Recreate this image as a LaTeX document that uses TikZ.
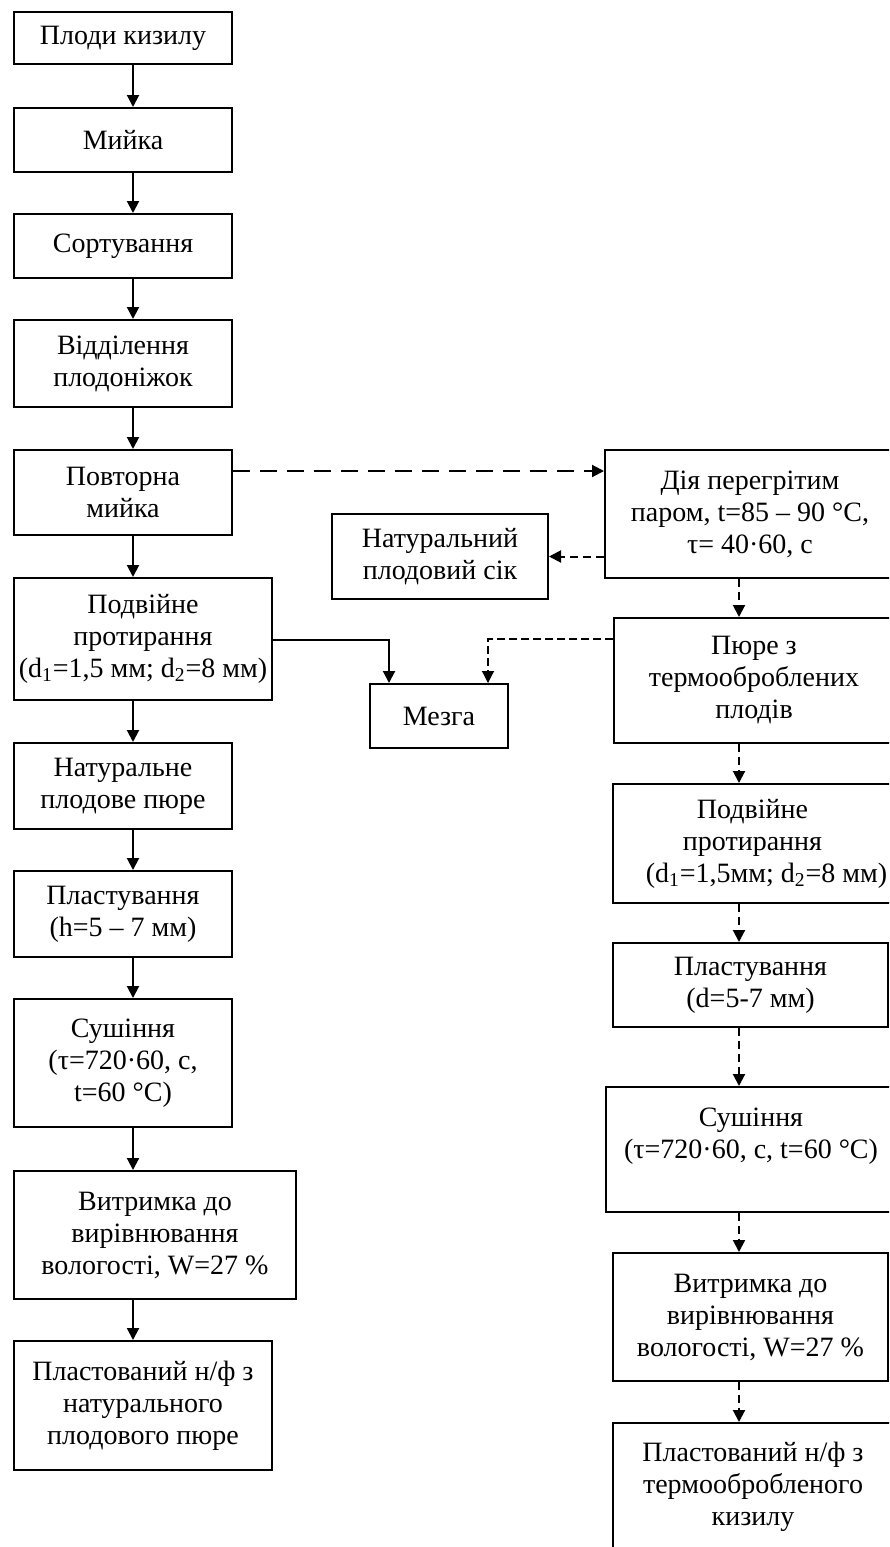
\documentclass[tikz,border=0pt]{standalone}
\usepackage{fontspec}
\setmainfont{Liberation Serif}
\usetikzlibrary{arrows.meta}

\begin{document}
\begin{tikzpicture}[x=0.5pt,y=-0.5pt,line width=1pt,font=\fontsize{14}{16}\selectfont]
   \tikzset{box/.style 2 args={draw, align=center, inner sep=0pt, minimum width=#1*0.5pt, minimum height=#2*0.5pt},
     arr/.style={-{Triangle[length=6pt,width=6pt]}},
     darr/.style={arr, dash pattern=on 8.5pt off 5pt},
     sdarr/.style={arr, dash pattern=on 4pt off 2.5pt},
     tdarr/.style={arr, line width=0.6pt, dash pattern=on 4pt off 2pt}};

\useasboundingbox (0,0) rectangle (889,1547);
\clip (0,0) rectangle (889,1547);

% left branch
\node[box={218}{52}] (l1) at (123,38) {Плоди кизилу};
\node[box={218}{64}] (l2) at (123,140) {Мийка};
\node[box={218}{64}] (l3) at (123,246) {Сортування};
\node[box={218}{87}] (l4) at (123,363.5) {Відділення\\плодоніжок};
\node[box={218}{85}] (l5) at (123,492.5) {Повторна\\мийка};
\node[box={258}{122}] (l6) at (143,639) {Подвійне\\протирання\\(d\textsubscript{1}=1,5 мм; d\textsubscript{2}=8 мм)};
\node[box={218}{86}] (l7) at (123,786) {Натуральне\\плодове пюре};
\node[box={218}{86}] (l8) at (123,914) {Пластування\\(h=5 – 7 мм)};
\node[box={218}{128}] (l9) at (123,1063) {Сушіння\\(τ=720·60, с,\\t=60 °C)};
\node[box={282}{128}] (l10) at (155,1235) {Витримка до\\вирівнювання\\вологості, W=27 \%};
\node[box={258}{129}] (l11) at (143,1405.5) {Пластований н/ф з\\натурального\\плодового пюре};

% right branch
\node[box={290}{128}] (r1) at (750,514) {Дія перегрітим\\паром, t=85 – 90 °C,\\τ= 40·60, с};
\node[box={216}{85}] (sik) at (440,556.5) {Натуральний\\плодовий сік};
\node[box={280}{125}] (r2) at (754,680.5) {Пюре з\\термооброблених\\плодів};
\node[box={138}{64}] (mezga) at (439,716) {Мезга};
\node[box={279}{119}] (r3) at (752.5,843.5) {Подвійне\\протирання\\\hspace*{14pt}(d\textsubscript{1}=1,5мм; d\textsubscript{2}=8 мм)};
\node[box={275}{84}] (r4) at (750.5,985) {Пластування\\(d=5-7 мм)};
\node[box={290}{125}] (r5) at (751,1149.5) {Сушіння\\(τ=720·60, с, t=60 °C)\\~};
\node[box={275}{128}] (r6) at (750.5,1317) {Витримка до\\вирівнювання\\вологості, W=27 \%};
\node[box={280}{128}] (r7) at (753,1487) {Пластований н/ф з\\термообробленого\\кизилу};

\coordinate (lx) at (133,0);
\coordinate (rx) at (739,0);
\coordinate (p1) at (0,471);
\coordinate (m1) at (389,640);
\coordinate (m2) at (488,639);

\draw[arr] (l1.south -| lx) -- (l2.north -| lx);
\draw[arr] (l2.south -| lx) -- (l3.north -| lx);
\draw[arr] (l3.south -| lx) -- (l4.north -| lx);
\draw[arr] (l4.south -| lx) -- (l5.north -| lx);
\draw[arr] (l5.south -| lx) -- (l6.north -| lx);
\draw[arr] (l6.south -| lx) -- (l7.north -| lx);
\draw[arr] (l7.south -| lx) -- (l8.north -| lx);
\draw[arr] (l8.south -| lx) -- (l9.north -| lx);
\draw[arr] (l9.south -| lx) -- (l10.north -| lx);
\draw[arr] (l10.south -| lx) -- (l11.north -| lx);
\draw[arr] (l6.east |- m1) -- (m1) -- (m1 |- mezga.north);

\draw[darr] (l5.east |- p1) -- (r1.west |- p1);
\draw[sdarr] (r1.west |- sik.east) -- (sik.east);
\draw[tdarr] (r2.west |- m2) -- (m2) -- (m2 |- mezga.north);
\draw[sdarr] (r1.south -| rx) -- (r2.north -| rx);
\draw[sdarr] (r2.south -| rx) -- (r3.north -| rx);
\draw[sdarr] (r3.south -| rx) -- (r4.north -| rx);
\draw[sdarr] (r4.south -| rx) -- (r5.north -| rx);
\draw[sdarr] (r5.south -| rx) -- (r6.north -| rx);
\draw[sdarr] (r6.south -| rx) -- (r7.north -| rx);

\end{tikzpicture}
\end{document}
